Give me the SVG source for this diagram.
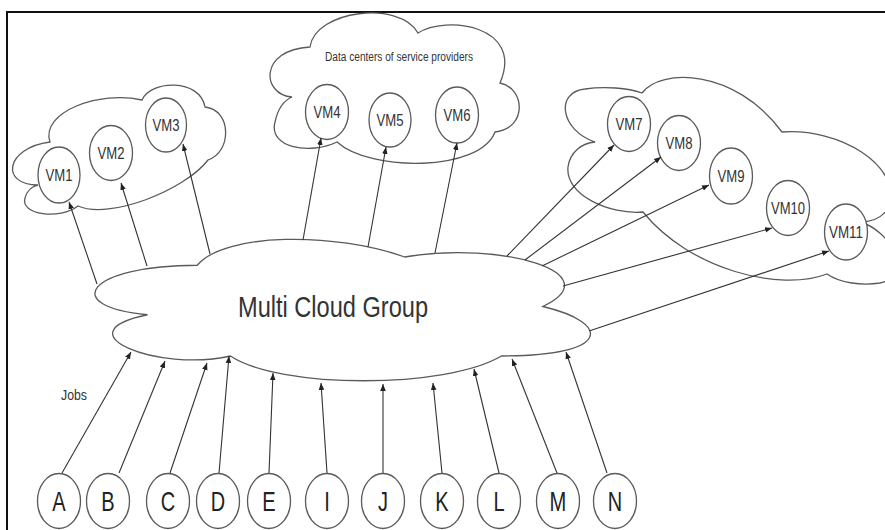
<svg xmlns="http://www.w3.org/2000/svg" width="885" height="530" viewBox="0 0 885 530">
<style>
.cloud{fill:#fff;stroke:#5a5a5a;stroke-width:1.3}
.vm{fill:#fff;stroke:#5a5a5a;stroke-width:1.3}
.t{font-family:"Liberation Sans",Arial,sans-serif;fill:#333;text-anchor:middle}
.vmt{font-size:16px}
.lt{font-size:28px;fill:#222}
.c{stroke:#333;stroke-width:1.1;fill:none;marker-end:url(#ah)}
</style>
<defs>
<marker id="ah" viewBox="0 0 10 10" refX="10" refY="5" markerWidth="7" markerHeight="7" markerUnits="userSpaceOnUse" orient="auto"><path d="M0,1 L10,5 L0,9 z" fill="#222"/></marker>
</defs>
<rect width="885" height="530" fill="#fff"/>
<path d="M7,530 V12 H885" fill="none" stroke="#111" stroke-width="2"/>

<g id="cloud-left"><path class="cloud" d="M38,185 C0,185 5,148 50,142 C40,112 100,90 142,100 C150,80 200,78 205,107 C232,110 232,152 208,160 C185,190 110,220 78,206 C60,220 20,215 25,198 C27,190 33,186 38,185 Z"/></g>
<g id="cloud-top"><path class="cloud" d="M292,97 C262,95 258,50 310,47 C315,10 400,0 418,33 C445,15 525,25 500,83 C525,88 528,128 495,132 C480,172 370,172 337,142 C310,155 268,148 275,122 C278,108 285,100 292,97 Z"/>
<text class="t" x="399" y="61" font-size="12.5" textLength="148" lengthAdjust="spacingAndGlyphs">Data centers of service providers</text></g>
<g id="cloud-right"><path class="cloud" d="M595,142 C560,130 555,92 585,89 C605,86 628,88 642,93 C660,68 735,68 782,132 C840,128 900,165 890,205 C885,215 875,222 860,222 C890,230 915,275 880,283 C862,286 840,283 827,274 C780,292 690,270 643,212 C610,215 565,195 568,167 C570,152 582,143 595,142 Z"/></g>
<g id="multi-cloud"><path class="cloud" d="M197.25,265.25 C86.65,265.25 59,306.5 147.5,314.75 C59,332.9 158.5,372.5 230.4,356 C280.2,389 446.1,389 501.4,356 C612,356 612,323 542.9,306.5 C612,273.5 501.4,240.5 404.6,257 C335.5,232.25 224.9,232.25 197.25,265.25 Z"/>
<text class="t" x="333" y="317" font-size="30" fill="#222" textLength="190" lengthAdjust="spacingAndGlyphs">Multi Cloud Group</text></g>

<g id="vm1"><ellipse class="vm" cx="59" cy="175" rx="21" ry="28"/><text class="t vmt" x="59" y="181" textLength="27" lengthAdjust="spacingAndGlyphs">VM1</text></g>
<g id="vm2"><ellipse class="vm" cx="111" cy="153" rx="21.5" ry="27.5"/><text class="t vmt" x="111" y="159" textLength="27" lengthAdjust="spacingAndGlyphs">VM2</text></g>
<g id="vm3"><ellipse class="vm" cx="166" cy="125" rx="20.5" ry="27"/><text class="t vmt" x="166" y="131" textLength="27" lengthAdjust="spacingAndGlyphs">VM3</text></g>
<g id="vm4"><ellipse class="vm" cx="327" cy="112" rx="21.5" ry="27.5"/><text class="t vmt" x="327" y="118" textLength="27" lengthAdjust="spacingAndGlyphs">VM4</text></g>
<g id="vm5"><ellipse class="vm" cx="390" cy="120" rx="21" ry="27"/><text class="t vmt" x="390" y="126" textLength="27" lengthAdjust="spacingAndGlyphs">VM5</text></g>
<g id="vm6"><ellipse class="vm" cx="457" cy="115" rx="21.5" ry="28"/><text class="t vmt" x="457" y="121" textLength="27" lengthAdjust="spacingAndGlyphs">VM6</text></g>
<g id="vm7"><ellipse class="vm" cx="629" cy="124" rx="21.5" ry="27.5"/><text class="t vmt" x="629" y="130" textLength="27" lengthAdjust="spacingAndGlyphs">VM7</text></g>
<g id="vm8"><ellipse class="vm" cx="679" cy="143" rx="21.5" ry="27.5"/><text class="t vmt" x="679" y="149" textLength="27" lengthAdjust="spacingAndGlyphs">VM8</text></g>
<g id="vm9"><ellipse class="vm" cx="731" cy="176" rx="21.5" ry="28"/><text class="t vmt" x="731" y="182" textLength="27" lengthAdjust="spacingAndGlyphs">VM9</text></g>
<g id="vm10"><ellipse class="vm" cx="788" cy="208" rx="21.5" ry="27.5"/><text class="t vmt" x="788" y="214" textLength="34" lengthAdjust="spacingAndGlyphs">VM10</text></g>
<g id="vm11"><ellipse class="vm" cx="846" cy="232" rx="21.5" ry="28"/><text class="t vmt" x="846" y="238" textLength="34" lengthAdjust="spacingAndGlyphs">VM11</text></g>

<g id="job-a"><ellipse class="vm" cx="59" cy="501" rx="21.5" ry="27.5"/><text class="t lt" x="59" y="511" textLength="13.4" lengthAdjust="spacingAndGlyphs">A</text></g>
<g id="job-b"><ellipse class="vm" cx="108" cy="501" rx="21.5" ry="27.5"/><text class="t lt" x="108" y="511" textLength="13.4" lengthAdjust="spacingAndGlyphs">B</text></g>
<g id="job-c"><ellipse class="vm" cx="168" cy="501" rx="21.5" ry="27.5"/><text class="t lt" x="168" y="511" textLength="14.4" lengthAdjust="spacingAndGlyphs">C</text></g>
<g id="job-d"><ellipse class="vm" cx="218" cy="501" rx="21.5" ry="27.5"/><text class="t lt" x="218" y="511" textLength="14.4" lengthAdjust="spacingAndGlyphs">D</text></g>
<g id="job-e"><ellipse class="vm" cx="269" cy="501" rx="21.5" ry="27.5"/><text class="t lt" x="269" y="511" textLength="13.4" lengthAdjust="spacingAndGlyphs">E</text></g>
<g id="job-i"><ellipse class="vm" cx="327" cy="501" rx="21.5" ry="27.5"/><text class="t lt" x="327" y="511" textLength="5.6" lengthAdjust="spacingAndGlyphs">I</text></g>
<g id="job-j"><ellipse class="vm" cx="383" cy="501" rx="21.5" ry="27.5"/><text class="t lt" x="383" y="511" textLength="10" lengthAdjust="spacingAndGlyphs">J</text></g>
<g id="job-k"><ellipse class="vm" cx="442" cy="501" rx="21.5" ry="27.5"/><text class="t lt" x="442" y="511" textLength="13.4" lengthAdjust="spacingAndGlyphs">K</text></g>
<g id="job-l"><ellipse class="vm" cx="499" cy="501" rx="21.5" ry="27.5"/><text class="t lt" x="499" y="511" textLength="11.2" lengthAdjust="spacingAndGlyphs">L</text></g>
<g id="job-m"><ellipse class="vm" cx="558" cy="501" rx="21.5" ry="27.5"/><text class="t lt" x="558" y="511" textLength="16.8" lengthAdjust="spacingAndGlyphs">M</text></g>
<g id="job-n"><ellipse class="vm" cx="615" cy="501" rx="21.5" ry="27.5"/><text class="t lt" x="615" y="511" textLength="14.4" lengthAdjust="spacingAndGlyphs">N</text></g>

<g id="jobs-label"><text class="t" x="74" y="400" font-size="14" fill="#555" textLength="26" lengthAdjust="spacingAndGlyphs">Jobs</text></g>

<g id="connectors">
<line class="c" x1="97" y1="284" x2="69" y2="202"/>
<line class="c" x1="147" y1="266" x2="121" y2="183"/>
<line class="c" x1="210" y1="254" x2="183" y2="144"/>
<line class="c" x1="303" y1="240" x2="321" y2="138"/>
<line class="c" x1="368" y1="247" x2="386" y2="147"/>
<line class="c" x1="435" y1="253" x2="457" y2="143"/>
<line class="c" x1="507" y1="256" x2="614" y2="145"/>
<line class="c" x1="525" y1="260" x2="661" y2="157"/>
<line class="c" x1="542" y1="266" x2="709" y2="185"/>
<line class="c" x1="563" y1="286" x2="772" y2="228"/>
<line class="c" x1="589" y1="331" x2="829" y2="251"/>
<line class="c" x1="62" y1="473" x2="131" y2="352"/>
<line class="c" x1="119" y1="473" x2="165" y2="361"/>
<line class="c" x1="170" y1="473" x2="207" y2="363"/>
<line class="c" x1="219" y1="473" x2="229" y2="356"/>
<line class="c" x1="269" y1="473" x2="273" y2="373"/>
<line class="c" x1="327" y1="473" x2="321" y2="383"/>
<line class="c" x1="383" y1="473" x2="383" y2="384"/>
<line class="c" x1="442" y1="473" x2="433" y2="383"/>
<line class="c" x1="499" y1="473" x2="474" y2="369"/>
<line class="c" x1="557" y1="473" x2="512" y2="359"/>
<line class="c" x1="607" y1="473" x2="566" y2="352"/>
</g>
</svg>
